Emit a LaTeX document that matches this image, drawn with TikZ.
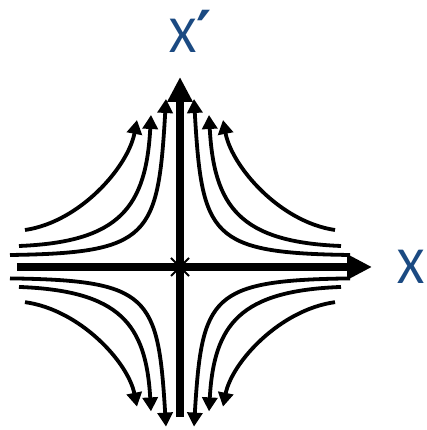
\documentclass[tikz,border=0pt]{standalone}
\usepackage{fontspec}
\setmainfont{Carlito}
\newfontfamily\primefont{DejaVu Sans}
\usetikzlibrary{arrows.meta, shapes.misc}
\definecolor{labelblue}{HTML}{1B4A82}

\begin{document}
\begin{tikzpicture}[x=1pt, y=1pt,
  axisline/.style={line width=7.5pt, -{Triangle[length=25pt, width=24pt]}},
  flowline/.style={line width=3.8pt, -{Triangle[length=14pt, width=15pt]}},
  axislabel/.style={text=labelblue, font=\fontsize{52}{52}\selectfont, inner sep=0pt}]

\useasboundingbox (-180,-163) rectangle (246,267);

% Axes
\coordinate (xa) at (-163,0);
\coordinate (xb) at (192,0);
\coordinate (ya) at (0,-150);
\coordinate (yb) at (0,190);
\draw[axisline] (xa) -- (xb);
\draw[axisline] (ya) -- (yb);

% Saddle point
\node[cross out, draw, line width=2pt, minimum size=16pt] (o) at (0,0) {};

% Labels
\node[axislabel, anchor=west] (xlab) at (217,0) {X};
\node[axislabel] (xplab) at (11,236) {X{\primefont\bfseries\fontsize{58}{58}\selectfont\symbol{"2032}}};

% Flow lines, one quadrant mirrored four times
\foreach \sx/\sy in {1/1, -1/1, 1/-0.95, -1/-0.95} {
  \begin{scope}[xscale=\sx, yscale=\sy]
    \draw[flowline] (170,12) .. controls (30,14) and (22,30) .. (14,168);
    \draw[flowline] (161,21) .. controls (60,25) and (34,60) .. (29,152);
    \draw[flowline] (155,37) .. controls (100,45) and (52,100) .. (43,147);
  \end{scope}
}

\end{tikzpicture}
\end{document}
